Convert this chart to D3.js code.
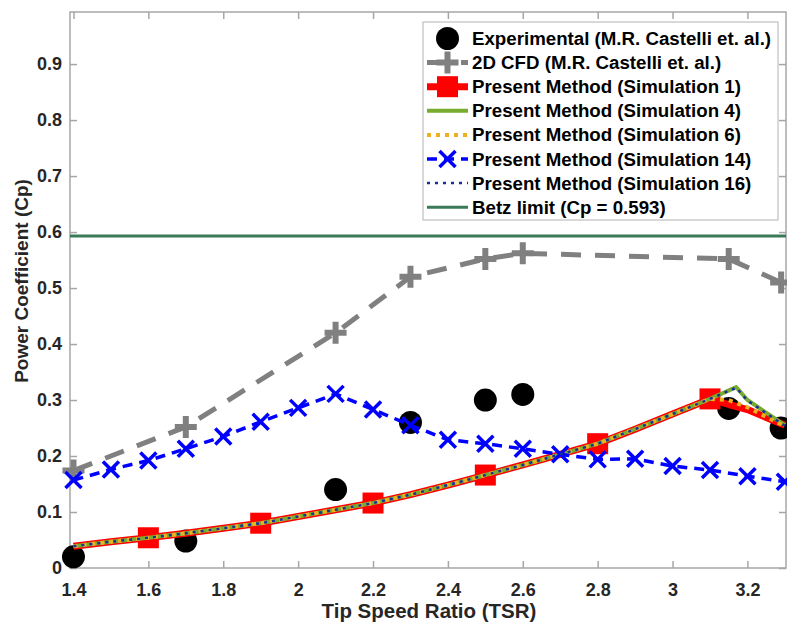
<!DOCTYPE html>
<html>
<head>
<meta charset="utf-8">
<script src="https://cdn.jsdelivr.net/npm/d3@7"></script>
<style>
    body { margin: 0; background: #fff; }
    svg { display: block; font-family: "Liberation Sans", Arial, sans-serif; font-weight: bold; }
</style>
</head>
<body>
<svg id="chart" width="787" height="626"></svg>
<script>
"use strict";

// experimental data (M.R. Castelli et. al.)
let expTsr = [1.4, 1.7, 2.1, 2.3, 2.5, 2.6, 3.15, 3.29];
let expCp = [0.02, 0.048, 0.14, 0.26, 0.30, 0.31, 0.285, 0.25];

// 2D CFD (M.R. Castelli et. al.)
let cfdTsr = [1.4, 1.7, 2.1, 2.3, 2.5, 2.6, 3.15, 3.29];
let cfdCp = [0.174, 0.252, 0.42, 0.52, 0.552, 0.562, 0.552, 0.51];

// present method, simulations 1 / 4 / 6 / 16 share the same curve up to TSR 3.1
let simTsr = [1.4, 1.5, 1.6, 1.7, 1.8, 1.9, 2.0, 2.1, 2.2, 2.3, 2.4, 2.5, 2.6, 2.7, 2.8, 2.9, 3.0, 3.1];
let simCp = [0.039, 0.047, 0.054, 0.062, 0.071, 0.080, 0.092, 0.104, 0.116, 0.131, 0.148, 0.166, 0.184, 0.203, 0.222, 0.248, 0.275, 0.302];

let sim1TailTsr = [3.15, 3.2, 3.3];
let sim1TailCp = [0.292, 0.283, 0.255];
let sim1MarkerTsr = [1.6, 1.9, 2.2, 2.5, 2.8, 3.1];

let sim4TailTsr = [3.17, 3.2, 3.3];
let sim4TailCp = [0.323, 0.300, 0.255];

let sim6TailTsr = [3.15, 3.2, 3.3];
let sim6TailCp = [0.300, 0.287, 0.253];

let sim16TailTsr = [3.17, 3.2, 3.3];
let sim16TailCp = [0.322, 0.299, 0.254];

// simulation 14
let sim14Tsr = [1.4, 1.5, 1.6, 1.7, 1.8, 1.9, 2.0, 2.1, 2.2, 2.3, 2.4, 2.5, 2.6, 2.7, 2.8, 2.9, 3.0, 3.1, 3.2, 3.3];
let sim14Cp = [0.157, 0.176, 0.192, 0.213, 0.235, 0.261, 0.286, 0.311, 0.283, 0.255, 0.229, 0.222, 0.213, 0.203, 0.194, 0.195, 0.182, 0.175, 0.164, 0.154];

let betzCp = 0.593;

let xTicks = [1.4, 1.6, 1.8, 2, 2.2, 2.4, 2.6, 2.8, 3, 3.2];
let yTicks = [0, 0.1, 0.2, 0.3, 0.4, 0.5, 0.6, 0.7, 0.8, 0.9];

let legendLabels = [
    "Experimental (M.R. Castelli et. al.)",
    "2D CFD (M.R. Castelli et. al.)",
    "Present Method (Simulation 1)",
    "Present Method (Simulation 4)",
    "Present Method (Simulation 6)",
    "Present Method (Simulation 14)",
    "Present Method (Simulation 16)",
    "Betz limit (Cp = 0.593)"
];

function pairs(xs, ys) {
    return xs.map((x, i) => [x, ys[i]]);
}

let chart = function() {
    let self = {
        svg: d3.select("#chart"),
        left: 70,
        right: 786,
        top: 12,
        bottom: 568,
        x: null,
        y: null
    };

    self.x = d3.scaleLinear().domain([1.3907, 3.303]).range([self.left, self.right]);
    self.y = d3.scaleLinear().domain([0, 0.993]).range([self.bottom, self.top]);

    let line = d3.line().x(d => self.x(d[0])).y(d => self.y(d[1]));

    // series definitions (styles only, values come from the arrays above)
    let series = {
        exp: { data: pairs(expTsr, expCp) },
        cfd: { data: pairs(cfdTsr, cfdCp), color: "#808080", width: 5, dash: "20,14" },
        sim1: { data: pairs(simTsr.concat(sim1TailTsr), simCp.concat(sim1TailCp)), color: "#ff0000", width: 7 },
        sim4: { data: pairs(simTsr.concat(sim4TailTsr), simCp.concat(sim4TailCp)), color: "#77ac30", width: 4 },
        sim6: { data: pairs(simTsr.concat(sim6TailTsr), simCp.concat(sim6TailCp)), color: "#edb120", width: 4, dash: "4,5" },
        sim14: { data: pairs(sim14Tsr, sim14Cp), color: "#0000ff", width: 3.5, dash: "10,7" },
        sim16: { data: pairs(simTsr.concat(sim16TailTsr), simCp.concat(sim16TailCp)), color: "#1b2f9c", width: 2.5, dash: "3,5" }
    };

    init();

    function init() {
        self.svg.append("defs").append("clipPath")
            .attr("id", "plotClip")
            .append("rect")
            .attr("x", self.left)
            .attr("y", self.top)
            .attr("width", self.right - self.left)
            .attr("height", self.bottom - self.top);

        drawAxes();
        drawSeries();
        drawLegend();
    }

    function drawAxes() {
        let g = self.svg.append("g").attr("class", "axes");

        g.append("rect")
            .attr("x", self.left)
            .attr("y", self.top)
            .attr("width", self.right - self.left)
            .attr("height", self.bottom - self.top)
            .style("fill", "none")
            .style("stroke", "#a6a6a6")
            .style("stroke-width", 1.5);

        // inward ticks on all four sides
        let xAxisBottom = d3.axisBottom(self.x).tickValues(xTicks).tickSize(-7).tickPadding(15).tickFormat(d3.format("~g"));
        let xAxisTop = d3.axisTop(self.x).tickValues(xTicks).tickSize(-7).tickFormat("");
        let yAxisLeft = d3.axisLeft(self.y).tickValues(yTicks).tickSize(-7).tickPadding(8).tickFormat(d3.format("~g"));
        let yAxisRight = d3.axisRight(self.y).tickValues(yTicks).tickSize(-7).tickFormat("");

        let axes = [
            g.append("g").attr("transform", `translate(0,${self.bottom})`).call(xAxisBottom),
            g.append("g").attr("transform", `translate(0,${self.top})`).call(xAxisTop),
            g.append("g").attr("transform", `translate(${self.left},0)`).call(yAxisLeft),
            g.append("g").attr("transform", `translate(${self.right},0)`).call(yAxisRight)
        ];

        axes.forEach(function(a) {
            a.select(".domain").remove();
            a.selectAll(".tick line").style("stroke", "#a6a6a6").style("stroke-width", 1.5);
            a.selectAll(".tick text")
                .style("font-family", "'Liberation Sans', Arial, sans-serif")
                .style("font-weight", "bold")
                .style("font-size", "18px")
                .style("fill", "#262626");
        });

        g.append("text")
            .attr("x", 429)
            .attr("y", 617.5)
            .attr("text-anchor", "middle")
            .style("font-size", "20.5px")
            .style("fill", "#262626")
            .text("Tip Speed Ratio (TSR)");

        g.append("text")
            .attr("transform", "translate(28,281) rotate(-90)")
            .attr("text-anchor", "middle")
            .style("font-size", "19px")
            .style("fill", "#262626")
            .text("Power Coefficient (Cp)");
    }

    function drawLine(g, s) {
        g.append("path")
            .datum(s.data)
            .attr("clip-path", "url(#plotClip)")
            .attr("d", line)
            .style("fill", "none")
            .style("stroke", s.color)
            .style("stroke-width", s.width)
            .style("stroke-dasharray", s.dash || null)
            .style("stroke-linejoin", "round");
    }

    function plusPath(cx, cy, r) {
        return `M${cx - r},${cy}H${cx + r}M${cx},${cy - r}V${cy + r}`;
    }

    function crossPath(cx, cy, r) {
        return `M${cx - r},${cy - r}L${cx + r},${cy + r}M${cx - r},${cy + r}L${cx + r},${cy - r}`;
    }

    function drawSeries() {
        let g = self.svg.append("g").attr("class", "series");

        // experimental: markers only
        g.selectAll(".exp")
            .data(series.exp.data)
            .enter().append("circle")
            .attr("class", "exp")
            .attr("cx", d => self.x(d[0]))
            .attr("cy", d => self.y(d[1]))
            .attr("r", 11.5)
            .style("fill", "#000");

        // 2D CFD
        drawLine(g, series.cfd);
        g.selectAll(".cfd")
            .data(series.cfd.data)
            .enter().append("path")
            .attr("class", "cfd")
            .attr("d", d => plusPath(self.x(d[0]), self.y(d[1]), 11))
            .style("stroke", series.cfd.color)
            .style("stroke-width", 6);

        // simulation 1 with square markers
        drawLine(g, series.sim1);
        let markers = series.sim1.data.filter(d => sim1MarkerTsr.indexOf(d[0]) >= 0);
        g.selectAll(".sim1")
            .data(markers)
            .enter().append("rect")
            .attr("class", "sim1")
            .attr("x", d => self.x(d[0]) - 10.5)
            .attr("y", d => self.y(d[1]) - 10.5)
            .attr("width", 21)
            .attr("height", 21)
            .style("fill", "#ff0000");

        drawLine(g, series.sim4);
        drawLine(g, series.sim6);

        // simulation 14 with x markers
        drawLine(g, series.sim14);
        g.selectAll(".sim14")
            .data(series.sim14.data)
            .enter().append("path")
            .attr("class", "sim14")
            .attr("d", d => crossPath(self.x(d[0]), self.y(d[1]), 8))
            .style("stroke", series.sim14.color)
            .style("stroke-width", 3.5);

        drawLine(g, series.sim16);

        // Betz limit
        g.append("line")
            .attr("x1", self.left)
            .attr("x2", self.right)
            .attr("y1", self.y(betzCp))
            .attr("y2", self.y(betzCp))
            .style("stroke", "#3b7a57")
            .style("stroke-width", 3);
    }

    function drawLegend() {
        let g = self.svg.append("g").attr("class", "legend");
        let boxX = 423, boxY = 22, boxW = 355, boxH = 198;
        let rowH = 24.1, firstRow = 38.5;
        let x1 = 427, x2 = 468, xm = (x1 + x2) / 2;

        g.append("rect")
            .attr("x", boxX)
            .attr("y", boxY)
            .attr("width", boxW)
            .attr("height", boxH)
            .style("fill", "#fff")
            .style("stroke", "#b3b3b3")
            .style("stroke-width", 1);

        let styles = [series.exp, series.cfd, series.sim1, series.sim4, series.sim6, series.sim14, series.sim16,
            { color: "#3b7a57", width: 3 }];

        legendLabels.forEach(function(label, i) {
            let cy = firstRow + i * rowH;
            let s = styles[i];

            if (i > 0) {
                g.append("line")
                    .attr("x1", x1).attr("x2", x2)
                    .attr("y1", cy).attr("y2", cy)
                    .style("stroke", s.color)
                    .style("stroke-width", s.width)
                    .style("stroke-dasharray", s.dash || null);
            }

            g.append("text")
                .attr("x", 472)
                .attr("y", cy + 6.5)
                .style("font-size", "18.7px")
                .style("fill", "#000")
                .text(label);
        });

        // legend markers
        g.append("circle").attr("cx", xm).attr("cy", firstRow).attr("r", 11.5).style("fill", "#000");
        g.append("path")
            .attr("d", plusPath(xm, firstRow + rowH, 11))
            .style("stroke", series.cfd.color).style("stroke-width", 6);
        g.append("rect")
            .attr("x", xm - 10.5).attr("y", firstRow + 2 * rowH - 10.5)
            .attr("width", 21).attr("height", 21)
            .style("fill", "#ff0000");
        g.append("path")
            .attr("d", crossPath(xm, firstRow + 5 * rowH, 8))
            .style("stroke", series.sim14.color).style("stroke-width", 3.5);
    }

    return self;
};

chart();
</script>
</body>
</html>
